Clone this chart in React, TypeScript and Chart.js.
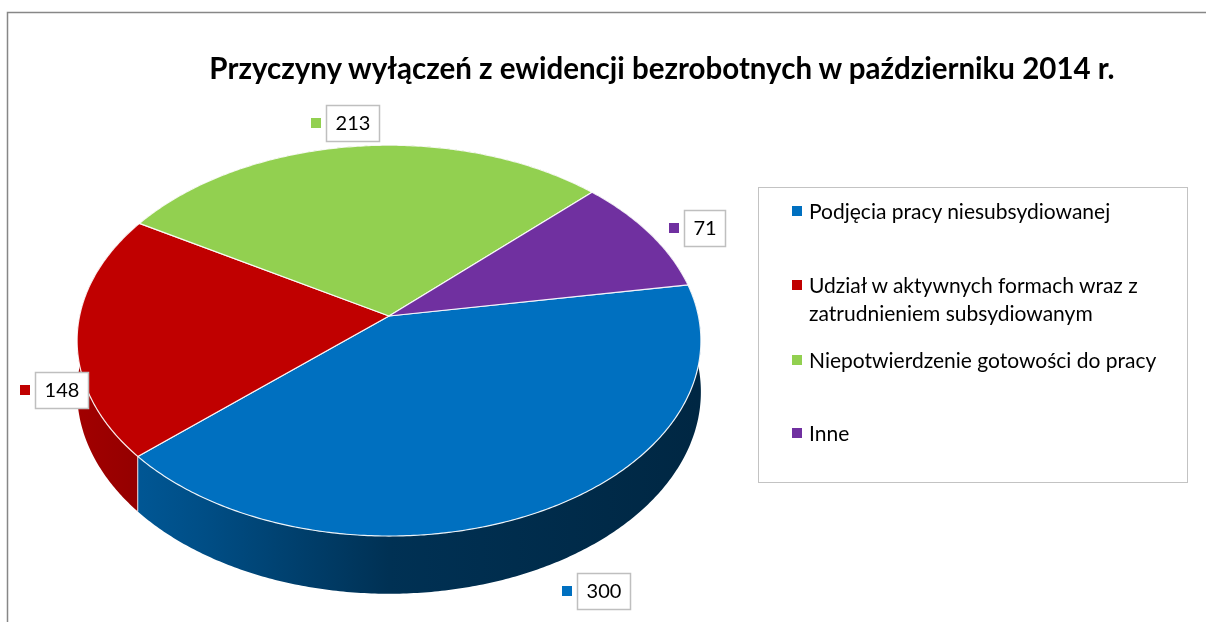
import React, { useEffect, useRef } from 'react';
import { Chart, registerables } from 'chart.js';

Chart.register(...registerables);

const chartTitle = 'Przyczyny wyłączeń z ewidencji bezrobotnych w październiku 2014 r.';
const categories = [
  'Podjęcia pracy niesubsydiowanej',
  'Udział w aktywnych formach wraz z zatrudnieniem subsydiowanym',
  'Niepotwierdzenie gotowości do pracy',
  'Inne',
];
const legendLines = [
  ['Podjęcia pracy niesubsydiowanej'],
  ['Udział w aktywnych formach wraz z', 'zatrudnieniem subsydiowanym'],
  ['Niepotwierdzenie gotowości do pracy'],
  ['Inne'],
];
const values = [300, 148, 213, 71];
const sliceColors = ['#0070C0', '#C00000', '#92D050', '#7030A0'];

const FONT = 'Lato, "Noto Sans", sans-serif';
// 3D look (relative to the pie radius computed by Chart.js)
const TILT_X = 1.625;
const TILT_Y = 1.01;
const PERSPECTIVE = 0.126;
const DEPTH = 0.265;
const legendTops = [211, 285, 360, 433];

function hexRgb(h: string) {
  const n = parseInt(h.slice(1), 16);
  return [(n >> 16) & 255, (n >> 8) & 255, n & 255];
}
function shade(hex: string, f: number) {
  const [r, g, b] = hexRgb(hex);
  return `rgb(${Math.round(r * f)},${Math.round(g * f)},${Math.round(b * f)})`;
}
function proj(cx: number, cy: number, R: number, a: number, dz: number) {
  const u = Math.cos(a);
  const v = Math.sin(a);
  const w = 1 - PERSPECTIVE * v;
  return { x: cx + (R * TILT_X * u) / w, y: cy + (R * TILT_Y * v + dz * R) / w };
}
function rim(ctx: CanvasRenderingContext2D, cx: number, cy: number, R: number, a0: number, a1: number, dz: number, move: boolean) {
  const n = Math.max(2, Math.ceil(Math.abs(a1 - a0) / 0.01));
  for (let k = 0; k <= n; k++) {
    const p = proj(cx, cy, R, a0 + ((a1 - a0) * k) / n, dz);
    if (k === 0 && move) ctx.moveTo(p.x, p.y);
    else ctx.lineTo(p.x, p.y);
  }
}

function getArcs(chart: any) {
  const meta = chart.getDatasetMeta(0);
  return meta.data.map((el: any, i: number) => {
    const p = el.getProps(['x', 'y', 'startAngle', 'endAngle', 'outerRadius'], true);
    return { ...p, options: el.options, color: sliceColors[i], value: chart.data.datasets[0].data[i] };
  });
}

const pie3d = {
  id: 'pie3d',
  beforeDraw(chart: any) {
    const ctx = chart.ctx;
    ctx.save();
    ctx.strokeStyle = '#878787';
    ctx.lineWidth = 1.5;
    ctx.strokeRect(7.5, 12.5, chart.width + 40, chart.height + 40);
    ctx.restore();
  },
  beforeDatasetsDraw(chart: any) {
    const ctx = chart.ctx as CanvasRenderingContext2D;
    const arcs = getArcs(chart);
    ctx.save();
    // side walls
    arcs.forEach((a: any) => {
      const { x, y, startAngle: s, endAngle: e, outerRadius: R } = a;
      ctx.beginPath();
      rim(ctx, x, y, R, s, e, 0, true);
      rim(ctx, x, y, R, e, s, DEPTH, false);
      ctx.closePath();
      const g = ctx.createLinearGradient(x - R * TILT_X, 0, x + R * TILT_X, 0);
      g.addColorStop(0, shade(a.color, 0.84));
      g.addColorStop(0.2, shade(a.color, 0.7));
      g.addColorStop(0.5, shade(a.color, 0.44));
      g.addColorStop(1, shade(a.color, 0.35));
      ctx.fillStyle = g;
      ctx.fill();
    });
    // separators on the walls
    arcs.forEach((a: any) => {
      const { x, y, startAngle: s, outerRadius: R } = a;
      const p0 = proj(x, y, R, s, 0);
      const p1 = proj(x, y, R, s, DEPTH);
      ctx.beginPath();
      ctx.moveTo(p0.x, p0.y);
      ctx.lineTo(p1.x, p1.y);
      ctx.strokeStyle = 'rgba(255,255,255,0.85)';
      ctx.lineWidth = 1;
      ctx.stroke();
    });
    // top faces
    arcs.forEach((a: any) => {
      const { x, y, startAngle: s, endAngle: e, outerRadius: R, options } = a;
      ctx.beginPath();
      ctx.moveTo(x, y);
      rim(ctx, x, y, R, s, e, 0, false);
      ctx.closePath();
      ctx.fillStyle = options.backgroundColor;
      ctx.fill();
      ctx.strokeStyle = options.borderColor;
      ctx.lineWidth = options.borderWidth;
      ctx.lineJoin = 'round';
      ctx.stroke();
    });
    ctx.restore();
    return false;
  },
  afterDraw(chart: any) {
    const ctx = chart.ctx as CanvasRenderingContext2D;
    const arcs = getArcs(chart);
    ctx.save();
    ctx.font = `20px ${FONT}`;
    ctx.textBaseline = 'middle';
    ctx.textAlign = 'center';
    arcs.forEach((a: any) => {
      const { x, y, startAngle: s, endAngle: e, outerRadius: R } = a;
      const mid = (s + e) / 2;
      const top = proj(x, y, R, mid, 0);
      const base = Math.sin(mid) > 0 ? proj(x, y, R, mid, DEPTH) : top;
      const dx = top.x - x;
      const dy = top.y - y;
      const len = Math.hypot(dx, dy) || 1;
      const ux = dx / len;
      const uy = dy / len;
      const boxCx = base.x + ux * 40 + uy * 20 + 23;
      const boxCy = base.y + uy * 26 + 2;
      const text = String(a.value);
      const tw = ctx.measureText(text).width;
      const bw = Math.round(tw + 18);
      const bh = 36;
      const ms = 10;
      const gap = 5;
      const bx = Math.round(boxCx - bw / 2);
      const cy = Math.round(boxCy);
      const left = bx - gap - ms;
      ctx.fillStyle = a.color;
      ctx.fillRect(left, cy - ms / 2, ms, ms);
      ctx.fillStyle = '#ffffff';
      ctx.fillRect(bx, cy - bh / 2, bw, bh);
      ctx.strokeStyle = '#bfbfbf';
      ctx.lineWidth = 1.5;
      ctx.strokeRect(bx + 0.5, cy - bh / 2 + 0.5, bw, bh);
      ctx.fillStyle = '#000000';
      ctx.fillText(text, bx + bw / 2 + 0.5, cy + 1);
    });
    ctx.restore();
  },
};

export default function App() {
  const ref = useRef<HTMLCanvasElement | null>(null);
  useEffect(() => {
    if (!ref.current) return;
    const chart = new Chart(ref.current, {
      type: 'pie',
      data: {
        labels: categories,
        datasets: [
          {
            data: values,
            backgroundColor: sliceColors,
            borderColor: 'rgba(255,255,255,0.9)',
            borderWidth: 1.2,
            hoverOffset: 0,
          },
        ],
      },
      options: {
        responsive: false,
        animation: false,
        rotation: 80.5,
        layout: { padding: { top: 125, bottom: 115, left: 198, right: 626 } },
        plugins: {
          legend: { display: false },
          title: { display: false },
          tooltip: { enabled: false },
        },
      },
      plugins: [pie3d],
    } as any);
    return () => chart.destroy();
  }, []);

  return (
    <div style={{ position: 'relative', width: 1206, height: 622, overflow: 'hidden', background: '#fff' }}>
      <style>{'body{margin:0;overflow:hidden;background:#fff}'}</style>
      <canvas ref={ref} width={1206} height={622} style={{ position: 'absolute', left: 0, top: 0 }} />
      <div
        style={{
          position: 'absolute',
          left: 112,
          width: 1100,
          top: 50,
          lineHeight: '34px',
          textAlign: 'center',
          font: `bold 29.5px ${FONT}`,
          whiteSpace: 'nowrap',
          color: '#000',
        }}
      >
        {chartTitle}
      </div>
      <div
        style={{
          position: 'absolute',
          left: 758,
          top: 187,
          width: 430,
          height: 296,
          border: '1.5px solid #c3c3c3',
          boxSizing: 'border-box',
        }}
      />
      {legendLines.map((lines, i) => (
        <div
          key={i}
          style={{ position: 'absolute', left: 792, top: legendTops[i] - 14, font: `21px ${FONT}`, lineHeight: '28px', color: '#000' }}
        >
          <span
            style={{ position: 'absolute', left: 0, top: 9, width: 10, height: 10, background: sliceColors[i] }}
          />
          <div style={{ marginLeft: 17, whiteSpace: 'nowrap' }}>
            {lines.map((l, j) => (
              <div key={j}>{l}</div>
            ))}
          </div>
        </div>
      ))}
    </div>
  );
}
